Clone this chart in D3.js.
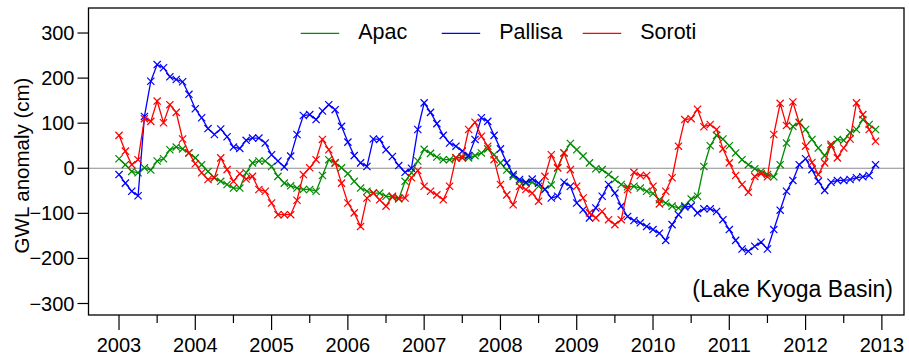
<!DOCTYPE html>
<html>
<head>
<meta charset="utf-8">
<script src="https://cdn.jsdelivr.net/npm/d3@7"></script>
<style>
  body { margin: 0; background: #fff; }
  svg { display: block; font-family: "Liberation Sans", Arial, Helvetica, sans-serif; }
</style>
</head>
<body>
<div id="chart"></div>
<script>
// monthly GWL anomaly (cm), Jan 2003 .. Dec 2012
const startYear = 2003;
const apac = [21, 8, -7, -10, 1, -4, 16, 21, 41, 47, 43, 34,
  23, 8, -7, -21, -29, -36, -44, -44, -10, 12, 16, 16,
  4, -18, -33, -39, -44, -47, -47, -51, -16, 19, 12, 1,
  -12, -29, -44, -51, -55, -55, -62, -64, -68, -29, -10, 16,
  42, 33, 25, 19, 19, 23, 25, 23, 28, 34, 43, 30,
  12, -4, -18, -29, -33, -31, -40, -46, -37, 1, 34, 55,
  41, 27, 12, -1, -3, -14, -25, -36, -41, -40, -44, -51,
  -56, -70, -77, -84, -88, -83, -68, -62, 4, 50, 73, 65,
  50, 34, 19, 8, -1, -7, -14, -19, 8, 56, 93, 102,
  86, 64, 45, 28, 49, 64, 62, 79, 86, 108, 97, 86];
const pallisa = [-14, -33, -51, -61, 115, 193, 230, 223, 203, 197, 192, 164,
  132, 112, 88, 75, 87, 70, 47, 44, 62, 67, 67, 56,
  30, 16, 3, 27, 75, 117, 119, 108, 127, 141, 130, 93,
  58, 28, 12, 4, 65, 64, 41, 26, 6, -9, 0, 86,
  145, 124, 99, 73, 56, 49, 38, 28, 64, 112, 104, 73,
  43, 12, -14, -25, -31, -24, -33, -47, -66, -62, -31, -40,
  -77, -92, -110, -88, -62, -36, -55, -84, -107, -116, -121, -129,
  -136, -144, -160, -125, -103, -86, -84, -99, -90, -90, -96, -114,
  -136, -160, -179, -184, -173, -164, -179, -136, -93, -51, -27, 8,
  21, -3, -29, -49, -31, -27, -27, -25, -21, -19, -16, 8];
const soroti = [73, 38, 8, 19, 110, 104, 149, 101, 141, 124, 65, 34,
  10, -10, -25, -21, 23, -3, -29, -12, -24, -18, -47, -51,
  -77, -103, -103, -103, -71, -14, 1, 19, 64, 41, 12, -33,
  -77, -99, -129, -66, -55, -70, -84, -62, -66, -66, -21, -5,
  -40, -51, -59, -70, -40, 23, 23, 86, 102, 71, 49, 19,
  -36, -59, -81, -40, -47, -55, -73, -18, 30, 1, 34, -3,
  -40, -66, -99, -110, -96, -114, -125, -114, -47, -9, -16, -16,
  -40, -79, -51, -21, 49, 108, 110, 131, 92, 97, 86, 43,
  12, -16, -36, -53, -18, -12, -19, 75, 144, 95, 147, 101,
  49, 13, -14, 12, 53, 23, 45, 65, 145, 119, 86, 60];

const seriesNames = ["Apac", "Pallisa", "Soroti"];
const seriesColors = ["#008B00", "#0000FF", "#FF0000"];
const yTicks = [-300, -200, -100, 0, 100, 200, 300];
const xTicks = [2003, 2004, 2005, 2006, 2007, 2008, 2009, 2010, 2011, 2012, 2013];
const panelLabel = "(Lake Kyoga Basin)";
const yTitle = "GWL anomaly (cm)";

const W = 909, H = 357;
const plotLeft = 88.5, plotRight = 904, plotTop = 8, plotBottom = 315;

const svg = d3.select("#chart").append("svg")
  .attr("width", W).attr("height", H);

const x = d3.scaleLinear().domain([2002.6, 2013.29]).range([plotLeft, plotRight]);
const y = d3.scaleLinear().domain([-325.5, 355.5]).range([plotBottom, plotTop]);

// zero line
svg.append("line")
  .attr("x1", plotLeft).attr("x2", plotRight)
  .attr("y1", y(0)).attr("y2", y(0))
  .attr("stroke", "#8c8c8c").attr("stroke-width", 1.2);

const allSeries = [apac, pallisa, soroti].map((vals, k) => ({
  name: seriesNames[k],
  color: seriesColors[k],
  pts: vals.map((v, i) => ({ t: startYear + i / 12, v: v }))
}));

const line = d3.line().x(d => x(d.t)).y(d => y(d.v));
const ms = 3.6;

allSeries.forEach(s => {
  const g = svg.append("g");
  g.append("path")
    .datum(s.pts)
    .attr("fill", "none")
    .attr("stroke", s.color)
    .attr("stroke-width", 1.3)
    .attr("d", line);
  g.selectAll("path.mk")
    .data(s.pts)
    .enter().append("path")
    .attr("class", "mk")
    .attr("d", d => {
      const cx = x(d.t), cy = y(d.v);
      return `M${cx - ms},${cy - ms}L${cx + ms},${cy + ms}M${cx - ms},${cy + ms}L${cx + ms},${cy - ms}`;
    })
    .attr("stroke", s.color)
    .attr("stroke-width", 1.2)
    .attr("fill", "none");
});

// box
svg.append("rect")
  .attr("x", plotLeft).attr("y", plotTop)
  .attr("width", plotRight - plotLeft).attr("height", plotBottom - plotTop)
  .attr("fill", "none").attr("stroke", "#000").attr("stroke-width", 1.3);

// y axis
const yAxis = svg.append("g");
yAxis.selectAll("line")
  .data(yTicks).enter().append("line")
  .attr("x1", plotLeft - 11).attr("x2", plotLeft)
  .attr("y1", d => y(d)).attr("y2", d => y(d))
  .attr("stroke", "#000").attr("stroke-width", 1.2);
yAxis.selectAll("text")
  .data(yTicks).enter().append("text")
  .attr("x", plotLeft - 14).attr("y", d => y(d))
  .attr("text-anchor", "end")
  .attr("dominant-baseline", "central")
  .style("font-size", "20px")
  .text(d => d < 0 ? "\u2212" + Math.abs(d) : d);

svg.append("text")
  .attr("transform", `translate(21,${(plotTop + plotBottom) / 2 + 4}) rotate(-90)`)
  .attr("text-anchor", "middle")
  .attr("dominant-baseline", "central")
  .style("font-size", "20.5px")
  .text(yTitle);

// x axis: labelled years plus mid-year minor ticks
const xAxis = svg.append("g");
const minor = xTicks.slice(0, -1).map(t => t + 0.5);
xAxis.selectAll("line.major")
  .data(xTicks).enter().append("line")
  .attr("class", "major")
  .attr("x1", d => x(d)).attr("x2", d => x(d))
  .attr("y1", plotBottom).attr("y2", plotBottom + 15)
  .attr("stroke", "#000").attr("stroke-width", 1.2);
xAxis.selectAll("line.minor")
  .data(minor).enter().append("line")
  .attr("class", "minor")
  .attr("x1", d => x(d)).attr("x2", d => x(d))
  .attr("y1", plotBottom).attr("y2", plotBottom + 8)
  .attr("stroke", "#000").attr("stroke-width", 1.2);
xAxis.selectAll("text")
  .data(xTicks).enter().append("text")
  .attr("x", d => x(d)).attr("y", 352)
  .attr("text-anchor", "middle")
  .style("font-size", "20px")
  .text(d => d);

// legend
const legX = [300.7, 441.7, 582.7];
const legend = svg.append("g");
allSeries.forEach((s, k) => {
  legend.append("line")
    .attr("x1", legX[k]).attr("x2", legX[k] + 38.5)
    .attr("y1", 33.3).attr("y2", 33.3)
    .attr("stroke", s.color).attr("stroke-width", 1.3);
  legend.append("text")
    .attr("x", legX[k] + 57.5).attr("y", 38.8)
    .style("font-size", "21.5px")
    .text(s.name);
});

svg.append("text")
  .attr("x", 893).attr("y", 297)
  .attr("text-anchor", "end")
  .style("font-size", "23px")
  .text(panelLabel);
</script>
</body>
</html>
